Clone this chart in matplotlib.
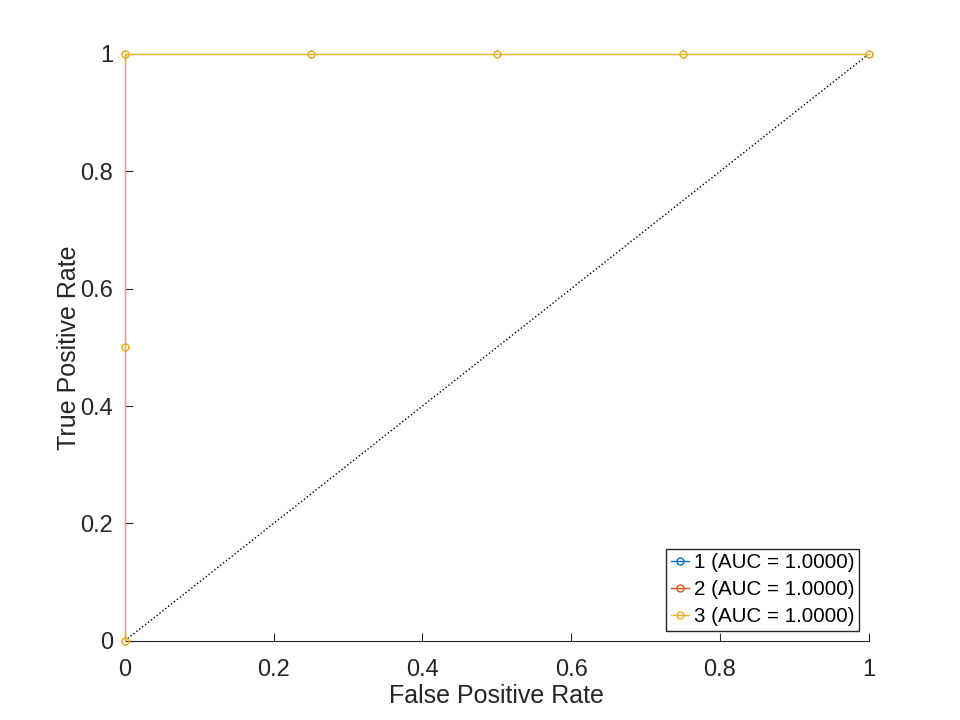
import numpy as np
import matplotlib.pyplot as plt

plt.rcParams['font.family'] = ['Liberation Sans', 'DejaVu Sans']

# roc points per class
fpr1 = [0, 0, 0, 0.25, 0.5, 0.75, 1]
tpr1 = [0, 0.5, 1, 1, 1, 1, 1]
fpr2 = [0, 0, 0, 0.25, 0.5, 0.75, 1]
tpr2 = [0, 0.5, 1, 1, 1, 1, 1]
fpr3 = [0, 0, 0, 0.25, 0.5, 0.75, 1]
tpr3 = [0, 0.5, 1, 1, 1, 1, 1]
auc = [1.0, 1.0, 1.0]
names = ['1', '2', '3']
colors = ['#0072BD', '#D95319', '#EDB120']

fig = plt.figure(figsize=(9.6, 7.2), dpi=100)
ax = fig.add_axes([0.13, 0.11, 0.775, 0.815])

ax.plot([0, 1], [0, 1], ':', color='k', lw=1)
# curves 1 and 2 sit under curve 3, keep them thin so yellow covers them
widths = [0.4, 0.4, 1.0]
for fx, ty, a, n, c, w in zip([fpr1, fpr2, fpr3], [tpr1, tpr2, tpr3], auc, names, colors, widths):
    ax.plot(fx, ty, '-o', color=c, lw=w, ms=5, mfc='none', mew=w,
            label='%s (AUC = %.4f)' % (n, a), clip_on=False, zorder=3)

ax.set_xlim(0, 1)
ax.set_ylim(0, 1)
ax.set_xticks(np.linspace(0, 1, 6))
ax.set_xticklabels(['0', '0.2', '0.4', '0.6', '0.8', '1'])
ax.set_yticks(np.linspace(0, 1, 6))
ax.set_yticklabels(['0', '0.2', '0.4', '0.6', '0.8', '1'])
ax.spines['top'].set_visible(False)
ax.spines['right'].set_visible(False)
for s in ['left', 'bottom']:
    ax.spines[s].set_color('#262626')
    ax.spines[s].set_zorder(0)
ax.tick_params(direction='in', length=6, labelsize=17, colors='#262626')
ax.tick_params(axis='y', pad=8.5)
ax.tick_params(axis='x', pad=13)
ax.set_xlabel('False Positive Rate', fontsize=18, color='#262626', labelpad=2)
ax.set_ylabel('True Positive Rate', fontsize=18, color='#262626', labelpad=-0.5)

leg = ax.legend(loc='lower right', fontsize=14.8, fancybox=False, framealpha=1,
                edgecolor='#262626', handlelength=0.9, handletextpad=0.2,
                borderpad=0.22, labelspacing=0.38, borderaxespad=0.5)
leg.get_frame().set_linewidth(1)
for h in leg.legend_handles:
    h.set_linewidth(1)
    h.set_markeredgewidth(1)

fig.savefig('out.png', dpi=100)
